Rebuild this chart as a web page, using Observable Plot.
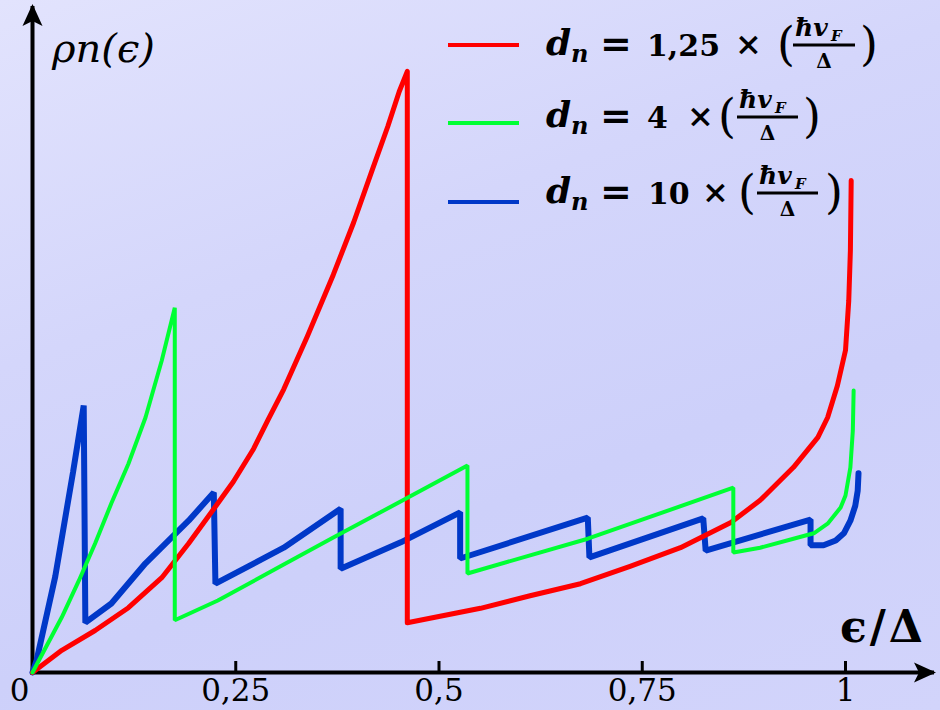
<!DOCTYPE html>
<html><head><meta charset="utf-8">
<script src="https://cdn.jsdelivr.net/npm/d3@7"></script>
<script src="https://cdn.jsdelivr.net/npm/@observablehq/plot@0.6"></script>
<style>
html,body{margin:0;padding:0;}
#wrap{position:relative;width:940px;height:710px;overflow:hidden;
background:linear-gradient(160deg,#e2e3fd 0%,#d4d6fb 35%,#cdd0fa 65%,#d2d4fb 100%);}
</style></head><body><div id="wrap"></div>
<script>
// ---- data ----
const redX = [0, 0.036, 0.077, 0.118, 0.159, 0.192, 0.228, 0.247, 0.272, 0.290, 0.309, 0.338, 0.370, 0.395, 0.419, 0.437, 0.451, 0.461, 0.461, 0.551, 0.612, 0.674, 0.735, 0.797, 0.859, 0.895, 0.936, 0.966, 0.978, 0.990, 1.000, 1.004, 1.006, 1.007];
const redY = [0, 0.037, 0.070, 0.108, 0.158, 0.215, 0.282, 0.318, 0.373, 0.422, 0.472, 0.560, 0.663, 0.750, 0.842, 0.910, 0.968, 1.002, 0.083, 0.107, 0.128, 0.148, 0.177, 0.208, 0.250, 0.287, 0.342, 0.392, 0.425, 0.478, 0.537, 0.620, 0.703, 0.820];

const greenX = [0, 0.036, 0.057, 0.077, 0.097, 0.118, 0.139, 0.159, 0.175, 0.175, 0.228, 0.309, 0.370, 0.428, 0.535, 0.535, 0.683, 0.862, 0.862, 0.895, 0.936, 0.961, 0.978, 0.994, 1.000, 1.006, 1.009, 1.010];
const greenY = [0, 0.092, 0.153, 0.215, 0.282, 0.348, 0.425, 0.520, 0.608, 0.087, 0.120, 0.180, 0.225, 0.267, 0.345, 0.165, 0.223, 0.308, 0.200, 0.208, 0.223, 0.232, 0.248, 0.275, 0.295, 0.342, 0.403, 0.470];

const blueX = [0, 0.005, 0.028, 0.050, 0.063, 0.065, 0.097, 0.139, 0.192, 0.223, 0.225, 0.309, 0.379, 0.379, 0.453, 0.526, 0.526, 0.683, 0.685, 0.825, 0.828, 0.957, 0.957, 0.973, 0.988, 0.998, 1.006, 1.012, 1.015, 1.016];
const blueY = [0, 0.020, 0.160, 0.335, 0.445, 0.083, 0.115, 0.182, 0.253, 0.300, 0.148, 0.208, 0.273, 0.173, 0.217, 0.267, 0.190, 0.258, 0.192, 0.257, 0.203, 0.255, 0.212, 0.212, 0.220, 0.232, 0.253, 0.278, 0.303, 0.332];

const xTicks = [0.25, 0.5, 0.75, 1];
const xTickLabels = ["0,25", "0,5", "0,75", "1"];
const originLabel = ["0"];
const legendCoefs = ["1,25", "4", "10"];

// ---- styles ----
const RED = "#ff0000", GREEN = "#00ff33", BLUE = "#0038c8";
const legendColors = [RED, GREEN, BLUE];
const FONT = "DejaVu Serif";

const rows = (xs, ys) => xs.map((x, i) => ({x, y: ys[i]}));

const plot = Plot.plot({
  width: 940, height: 710,
  marginLeft: 32, marginRight: 8, marginTop: 8, marginBottom: 38,
  x: {domain: [0, 1.107], axis: null},
  y: {domain: [0, 1.1067], axis: null},
  style: {background: "transparent", overflow: "visible"},
  marks: [
    Plot.ruleY([0], {stroke: "black", strokeWidth: 4}),
    Plot.ruleX([0], {stroke: "black", strokeWidth: 4}),
    Plot.axisX(xTicks, {tickSize: 11, stroke: "black", strokeWidth: 3, fill: "none", label: null}),
    Plot.text(xTicks, {x: d => d, y: () => 0, text: (d, i) => xTickLabels[i], dy: 19, fontSize: 31, fontFamily: FONT, fill: "black"}),
    Plot.text([0], {x: d => d, y: () => 0, text: (d, i) => originLabel[i], dx: -13, dy: 19, fontSize: 31, fontFamily: FONT, fill: "black"}),
    Plot.line(rows(blueX, blueY), {x: "x", y: "y", stroke: BLUE, strokeWidth: 6, strokeLinejoin: "miter"}),
    Plot.line(rows(redX, redY), {x: "x", y: "y", stroke: RED, strokeWidth: 5, strokeLinejoin: "round"}),
    Plot.line(rows(greenX, greenY), {x: "x", y: "y", stroke: GREEN, strokeWidth: 4, strokeLinejoin: "miter"})
  ]
});
document.getElementById("wrap").appendChild(plot);

const svg = d3.select(plot);
// arrow heads on the axes
const defs = svg.insert("defs", ":first-child");
defs.append("marker").attr("id", "ah").attr("viewBox", "0 -11 24 22")
  .attr("refX", 18).attr("refY", 0).attr("markerWidth", 24).attr("markerHeight", 22)
  .attr("markerUnits", "userSpaceOnUse").attr("orient", "auto-start-reverse")
  .append("path").attr("d", "M0,-10L22,0L0,10L5,0Z").attr("fill", "black");
svg.selectAll('g[aria-label="rule"] line').each(function() {
  const l = d3.select(this);
  l.attr("stroke-linecap", "square");
  if (l.attr("y1") === l.attr("y2")) l.attr("marker-end", "url(#ah)");
  else l.attr("marker-start", "url(#ah)");
});
// ticks point upward into the plot
svg.selectAll('g[aria-label="x-axis tick"] path').attr("d", "M0,0L0,-11");

// axis titles
const yl = svg.append("text").attr("x", 52).attr("y", 62).attr("font-family", FONT).attr("text-anchor", "start")
  .attr("font-style", "italic").attr("font-size", 40).attr("fill", "black");
yl.append("tspan").text("ρ");
yl.append("tspan").text("n(ϵ)");
svg.append("text").attr("x", 840).attr("y", 642).attr("font-family", FONT).attr("font-weight", "bold").attr("text-anchor", "start")
  .attr("font-size", 44).attr("letter-spacing", 3).attr("fill", "black").text("ϵ/Δ");

// legend
const legendLayout = [
  {line: 45, axis: 45, coef: 647, times: 735, lp: 777, bar: [793, 855], rp: 860},
  {line: 123, axis: 117, coef: 647, times: 687, lp: 718, bar: [737, 798], rp: 803},
  {line: 202, axis: 193, coef: 648, times: 702, lp: 738, bar: [757, 818], rp: 825}
];
const lg = svg.append("g").attr("font-family", FONT).attr("fill", "black").attr("text-anchor", "start");
const T = (x, y, s, size, weight, style) => lg.append("text").attr("x", x).attr("y", y)
  .attr("font-size", size).attr("font-weight", weight || "bold").attr("font-style", style || "normal").text(s);
legendLayout.forEach((r, i) => {
  lg.append("line").attr("x1", 448).attr("x2", 519).attr("y1", r.line).attr("y2", r.line)
    .attr("stroke", legendColors[i]).attr("stroke-width", 4);
  const a = r.axis;
  T(546, a + 10, "d", 36, "bold", "italic");
  T(571, a + 17, "n", 24, "bold", "italic");
  T(600, a + 12, "=", 38, "bold");
  T(r.coef, a + 11, legendCoefs[i], 30, "bold");
  T(r.times, a + 10, "×", 32, "bold");
  T(r.lp, a + 15, "(", 46, "normal");
  const [b1, b2] = r.bar;
  lg.append("line").attr("x1", b1).attr("x2", b2).attr("y1", a).attr("y2", a).attr("stroke", "black").attr("stroke-width", 3);
  T(b1 + 2, a - 9, "ħv", 25, "bold", "italic");
  T(b1 + 38, a - 4, "F", 15, "bold", "italic");
  T((b1 + b2) / 2, a + 23, "Δ", 20, "bold").attr("text-anchor", "middle");
  T(r.rp, a + 15, ")", 46, "normal");
});
</script></body></html>
